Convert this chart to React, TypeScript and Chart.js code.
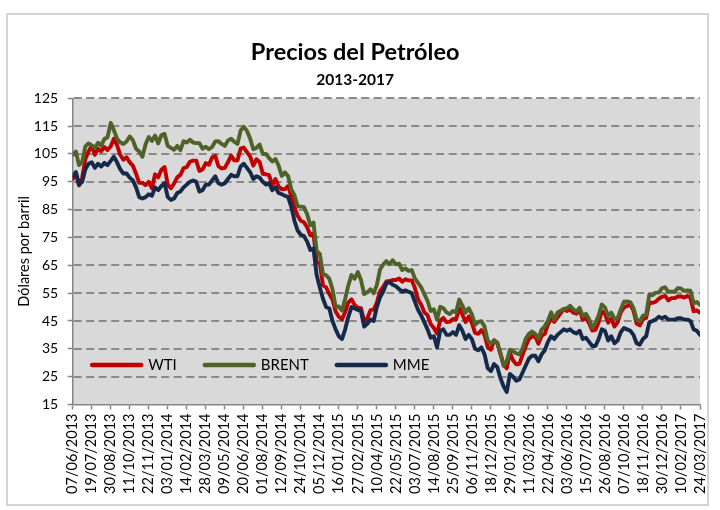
import React, { useEffect, useRef } from "react";
import { Chart, registerables } from "chart.js";

Chart.register(...registerables);

const FONT = "Lato, 'DejaVu Sans', sans-serif";

// Tick labels (every 6 weeks)
const tickLabels = [
  "07/06/2013", "19/07/2013", "30/08/2013", "11/10/2013", "22/11/2013", "03/01/2014",
  "14/02/2014", "28/03/2014", "09/05/2014", "20/06/2014", "01/08/2014", "12/09/2014",
  "24/10/2014", "05/12/2014", "16/01/2015", "27/02/2015", "10/04/2015", "22/05/2015",
  "03/07/2015", "14/08/2015", "25/09/2015", "06/11/2015", "18/12/2015", "29/01/2016",
  "11/03/2016", "22/04/2016", "03/06/2016", "15/07/2016", "26/08/2016", "07/10/2016",
  "18/11/2016", "30/12/2016", "10/02/2017", "24/03/2017",
];

const seriesNames = ["WTI", "BRENT", "MME"];

// Weekly values, 07/06/2013 .. 24/03/2017
const wti = [
  96.0, 97.8, 93.7, 96.6, 103.2, 105.9, 108.0, 104.7, 106.9, 106.0,
  107.5, 106.4, 107.7, 110.5, 108.2, 104.7, 102.9, 103.8, 102.0, 100.8,
  97.9, 94.6, 94.6, 93.8, 95.0, 92.7, 97.7, 96.6, 99.3, 100.3,
  94.0, 92.7, 94.4, 96.6, 97.5, 99.9, 100.3, 102.2, 102.6, 102.6,
  98.9, 99.5, 101.7, 101.1, 103.7, 104.3, 100.6, 99.8, 100.0, 102.0,
  104.4, 102.7, 102.7, 106.9, 107.3, 105.7, 104.1, 100.8, 103.1, 102.1,
  97.9, 97.7, 97.4, 93.7, 96.0, 93.3, 92.3, 92.4, 93.5, 89.7,
  85.8, 82.8, 81.0, 80.5, 78.7, 75.8, 76.5, 66.2, 65.8, 57.8,
  57.1, 54.7, 52.7, 48.4, 46.5, 45.6, 48.2, 51.7, 52.8, 50.8,
  49.8, 49.6, 44.8, 46.0, 48.9, 49.1, 51.6, 55.7, 57.2, 59.2,
  59.4, 59.7, 59.7, 60.3, 59.1, 60.0, 59.6, 59.6, 56.9, 52.7,
  50.9, 48.1, 47.1, 43.9, 42.5, 40.5, 45.2, 46.1, 44.6, 44.7,
  45.7, 45.5, 49.6, 47.3, 44.6, 46.6, 44.3, 40.7, 40.4, 41.7,
  40.0, 35.6, 34.7, 38.1, 37.0, 33.2, 29.4, 28.0, 33.6, 30.9,
  29.4, 29.6, 32.8, 35.9, 38.5, 39.4, 39.5, 36.8, 39.7, 40.4,
  43.7, 45.9, 44.7, 46.2, 47.8, 49.3, 48.6, 49.1, 48.0, 47.6,
  49.0, 45.4, 46.0, 44.2, 41.6, 41.8, 44.5, 48.5, 47.6, 44.4,
  45.9, 43.0, 44.5, 48.2, 49.8, 50.4, 50.9, 48.7, 44.1, 43.4,
  45.7, 46.1, 51.7, 51.5, 51.9, 53.0, 53.7, 54.0, 52.4, 53.2,
  53.2, 53.8, 53.9, 53.4, 54.0, 53.3, 48.5, 48.8, 48.0,
];

const brent = [
  104.6, 105.9, 101.0, 102.2, 107.7, 108.8, 108.1, 107.2, 109.0, 108.0,
  110.4, 111.0, 116.2, 113.5, 110.5, 109.2, 108.6, 109.5, 111.3, 109.9,
  106.9, 105.9, 104.0, 108.5, 111.1, 109.7, 111.6, 108.8, 111.8, 112.2,
  107.9, 107.2, 106.5, 107.9, 106.4, 109.6, 109.1, 110.1, 109.1, 108.9,
  108.9, 106.9, 107.6, 106.7, 107.5, 109.5, 109.6, 108.6, 107.9, 109.8,
  110.5, 109.4, 108.6, 113.4, 114.8, 113.3, 110.6, 106.7, 107.2, 108.4,
  105.0, 105.0, 103.5, 102.3, 103.2, 100.8, 97.1, 98.4, 97.0, 92.3,
  90.2, 86.2, 86.1, 85.9, 83.4, 79.4, 80.4, 70.2, 69.1, 61.9,
  61.4, 60.2, 56.4, 50.1, 50.2, 48.8, 53.0, 57.8, 61.5, 60.2,
  62.6, 59.7, 54.7, 55.3, 56.4, 55.0, 57.9, 63.5, 65.3, 66.5,
  65.4, 66.8, 65.4, 65.6, 63.3, 63.9, 63.0, 63.3, 60.3, 58.7,
  57.1, 54.6, 52.2, 48.6, 49.2, 45.5, 50.1, 49.6, 48.1, 47.5,
  48.6, 48.1, 52.7, 50.5, 48.0, 49.6, 47.4, 43.6, 44.7, 44.9,
  43.0, 37.9, 36.9, 37.9, 37.3, 33.6, 28.9, 30.5, 34.7, 34.1,
  33.4, 33.0, 35.1, 38.7, 40.4, 41.2, 40.4, 38.7, 41.9, 43.1,
  45.1, 48.1, 45.4, 48.0, 48.7, 49.3, 49.6, 50.5, 49.2, 48.4,
  49.7, 46.8, 47.6, 45.7, 42.5, 44.3, 47.0, 50.9, 49.9, 46.8,
  48.0, 45.8, 45.9, 49.2, 51.9, 52.0, 51.8, 49.7, 45.6, 44.8,
  46.9, 47.2, 54.5, 54.3, 55.2, 55.2, 56.8, 57.1, 55.5, 55.5,
  55.5, 56.8, 56.7, 55.8, 56.0, 55.9, 51.4, 51.8, 50.8,
];

const mme = [
  97.0, 98.5, 94.0, 95.0, 99.5, 101.5, 102.0, 100.0, 101.5, 100.5,
  101.8, 101.0, 102.5, 104.0, 102.0, 99.5, 98.0, 98.0, 96.5, 95.5,
  93.0, 89.5, 89.0, 89.5, 90.5, 90.0, 93.0, 92.0, 93.5, 94.5,
  89.5, 88.5, 89.0, 91.0, 91.5, 93.0, 94.0, 95.0, 95.5, 95.0,
  91.5, 92.0, 94.0, 94.0, 95.5, 97.0, 94.5, 94.0, 94.5, 96.0,
  97.5, 97.0, 97.0, 100.5, 101.5, 100.0, 98.5, 96.0, 97.0, 96.5,
  95.0, 94.0, 94.5, 92.0, 93.0, 91.0, 90.5, 90.0, 89.5, 86.0,
  81.0, 77.5, 76.0, 75.5, 73.5, 70.5, 71.0, 61.5, 57.0, 53.0,
  50.0, 49.5, 45.0, 42.0, 39.5, 38.5, 42.0, 46.5, 50.0, 49.5,
  49.0, 48.5, 43.0, 44.0, 45.5, 45.0, 50.0, 53.5, 55.5, 58.5,
  59.0, 58.0, 57.5, 56.5, 55.5, 56.0, 55.5, 55.0, 52.0, 49.0,
  47.0, 44.5, 42.0, 39.0, 39.5, 35.5, 41.5, 42.0, 40.0, 40.0,
  41.0, 40.0, 43.5, 41.5, 38.5, 40.0, 38.5, 35.0, 34.5, 35.5,
  33.0, 28.0, 27.0, 29.5, 28.5, 24.5, 21.5, 19.5, 26.0, 25.0,
  23.5, 24.0, 26.5, 29.0, 31.5, 32.5, 32.5, 30.5, 33.0, 34.5,
  37.5, 39.5, 38.5, 40.0, 41.0, 42.0, 41.5, 42.0, 41.0, 40.5,
  41.5, 38.5, 39.0, 37.5, 36.0, 36.0, 38.5, 42.0, 41.5, 38.0,
  39.5, 37.0, 38.0, 41.0, 42.5, 42.0, 41.5, 40.0, 37.0, 36.5,
  38.5, 39.5, 44.5, 45.0, 45.5, 46.5, 46.0, 46.5, 45.5, 45.5,
  45.5, 46.0, 46.0, 45.5, 45.5, 45.0, 42.0, 41.5, 40.0,
];

const framePlugin = {
  id: "frame",
  beforeDraw(chart: any) {
    const { ctx, chartArea: a, width, height } = chart;
    ctx.save();
    ctx.fillStyle = "#ffffff";
    ctx.fillRect(0, 0, width, height);
    ctx.strokeStyle = "#d4d4d4";
    ctx.lineWidth = 2;
    ctx.strokeRect(7, 14, 701, 491);
    ctx.fillStyle = "#d9d9d9";
    ctx.fillRect(a.left, a.top, a.right - a.left, a.bottom - a.top);
    ctx.restore();
  },
};

const gridPlugin = {
  id: "dashGrid",
  beforeDatasetsDraw(chart: any) {
    const { ctx, chartArea: a } = chart;
    const y = chart.scales.y;
    ctx.save();
    ctx.strokeStyle = "#8a8a8a";
    ctx.lineWidth = 2;
    ctx.setLineDash([8, 4.5]);
    y.ticks.forEach((t: any) => {
      if (t.value <= y.min) return;
      const py = Math.round(y.getPixelForValue(t.value));
      ctx.beginPath();
      ctx.moveTo(a.left + 1, py);
      ctx.lineTo(a.right, py);
      ctx.stroke();
    });
    ctx.restore();
  },
};

const legendPlugin = {
  id: "insideLegend",
  afterDatasetsDraw(chart: any) {
    const { ctx, chartArea: a } = chart;
    ctx.save();
    ctx.font = `15px ${FONT}`;
    ctx.textBaseline = "middle";
    ctx.textAlign = "left";
    let x = a.left + 17.5;
    const y = a.bottom - 39.5;
    const len = 53;
    chart.data.datasets.forEach((ds: any) => {
      ctx.strokeStyle = ds.borderColor;
      ctx.lineWidth = 4.5;
      ctx.lineCap = "round";
      ctx.beginPath();
      ctx.moveTo(x + 2, y);
      ctx.lineTo(x + len - 2, y);
      ctx.stroke();
      x += len + 5;
      ctx.fillStyle = "#000";
      ctx.fillText(ds.label, x, y);
      x += ctx.measureText(ds.label).width + 26;
    });
    ctx.restore();
  },
};

export default function App() {
  const ref = useRef<HTMLCanvasElement>(null);
  useEffect(() => {
    const canvas = ref.current as HTMLCanvasElement;
    const pts = (arr: number[]) => arr.map((v, i) => ({ x: i, y: v }));
    const chart = new Chart(canvas, {
      type: "line",
      data: {
        datasets: [
          { label: seriesNames[0], data: pts(wti), borderColor: "#c00000", backgroundColor: "#c00000", order: 3 },
          { label: seriesNames[1], data: pts(brent), borderColor: "#4f6228", backgroundColor: "#4f6228", order: 2 },
          { label: seriesNames[2], data: pts(mme), borderColor: "#15294a", backgroundColor: "#15294a", order: 1 },
        ],
      },
      options: {
        responsive: false,
        animation: false,
        devicePixelRatio: 1,
        layout: { padding: { left: 10.3, right: 20, top: 0, bottom: 0 } },
        elements: {
          point: { radius: 0 },
          line: { borderWidth: 3.9, tension: 0, borderJoinStyle: "round", borderCapStyle: "round" },
        },
        plugins: {
          legend: { display: false },
          tooltip: { enabled: false },
          title: {
            display: true,
            text: "Precios del Petróleo",
            color: "#000",
            font: { family: FONT, size: 23.5, weight: "bold" },
            padding: { top: 38.3, bottom: 0 },
          },
          subtitle: {
            display: true,
            text: "2013-2017",
            color: "#000",
            font: { family: FONT, size: 15.5, weight: "bold" },
            padding: { top: 3.7, bottom: 9.5 },
          },
        },
        scales: {
          x: {
            type: "linear",
            min: 0,
            max: 198,
            afterFit: (s: any) => {
              s.height = 105.5;
              s.paddingLeft = 0;
              s.paddingRight = 0;
            },
            ticks: {
              stepSize: 6,
              autoSkip: false,
              maxRotation: 90,
              minRotation: 90,
              color: "#000",
              font: { family: FONT, size: 14.5 },
              padding: 4,
              callback: (v: any) => {
                const k = Math.round(Number(v) / 6);
                return tickLabels[k];
              },
            },
            grid: { drawOnChartArea: false, drawTicks: true, tickLength: 5, tickColor: "#868686", tickWidth: 1.5 },
            border: { display: true, color: "#868686", width: 1.5 },
          },
          y: {
            min: 15,
            max: 125,
            afterFit: (s: any) => {
              s.width = 62.4;
            },
            ticks: { stepSize: 10, color: "#000", font: { family: FONT, size: 14 }, padding: 9.5 },
            grid: { drawOnChartArea: false, drawTicks: true, tickLength: 5, tickColor: "#868686", tickWidth: 1.5 },
            border: { display: true, color: "#868686", width: 1.5 },
            title: {
              display: true,
              text: "Dólares por barril",
              color: "#000",
              font: { family: FONT, size: 14.5 },
              padding: { top: 5, bottom: 0 },
            },
          },
        },
      },
      plugins: [framePlugin, gridPlugin, legendPlugin],
    } as any);
    return () => chart.destroy();
  }, []);

  return (
    <div style={{ position: "absolute", left: 0, top: 0, width: 720, height: 510, background: "#fff" }}>
      <canvas ref={ref} width={720} height={510} style={{ display: "block" }} />
    </div>
  );
}
